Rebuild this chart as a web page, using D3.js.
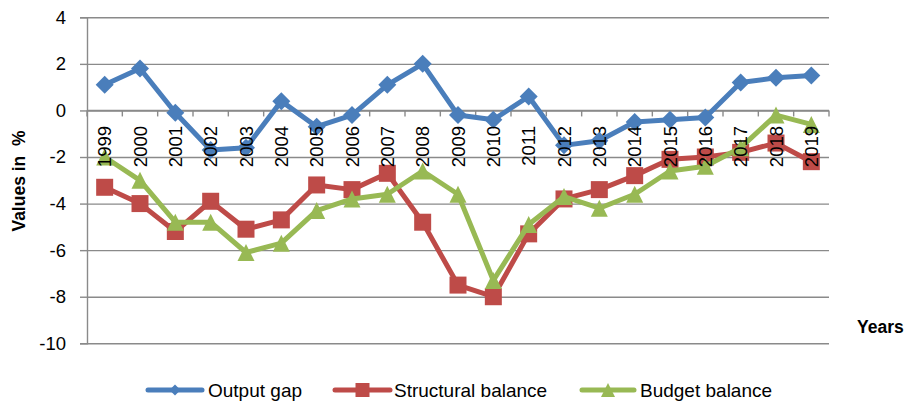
<!DOCTYPE html>
<html>
<head>
<meta charset="utf-8">
<script src="https://cdn.jsdelivr.net/npm/d3@7"></script>
<style>
  html, body { margin: 0; padding: 0; background: #fff; }
  svg { display: block; }
  text { font-family: "Liberation Sans", Arial, sans-serif; fill: #000; }
</style>
</head>
<body>
<svg id="chart" width="910" height="402"></svg>
<script>
const years = ["1999","2000","2001","2002","2003","2004","2005","2006","2007","2008","2009","2010","2011","2012","2013","2014","2015","2016","2017","2018","2019"];
const outputGap = [1.1, 1.8, -0.1, -1.7, -1.6, 0.4, -0.7, -0.2, 1.1, 2.0, -0.2, -0.4, 0.6, -1.5, -1.3, -0.5, -0.4, -0.3, 1.2, 1.4, 1.5];
const structuralBalance = [-3.3, -4.0, -5.2, -3.9, -5.1, -4.7, -3.2, -3.4, -2.7, -4.8, -7.5, -8.0, -5.3, -3.8, -3.4, -2.8, -2.1, -2.0, -1.8, -1.4, -2.2];
const budgetBalance = [-2.0, -3.0, -4.8, -4.8, -6.1, -5.7, -4.3, -3.8, -3.6, -2.6, -3.6, -7.3, -4.9, -3.7, -4.2, -3.6, -2.6, -2.4, -1.6, -0.2, -0.6];
const yTicks = [4, 2, 0, -2, -4, -6, -8, -10];
const seriesNames = ["Output gap", "Structural balance", "Budget balance"];

const svg = d3.select("#chart");
const plotLeft = 87, plotRight = 829, plotTop = 17.3, plotBottom = 343.3;

const x = d3.scaleBand().domain(years).range([plotLeft, plotRight]).padding(0);
const y = d3.scaleLinear().domain([-10, 4]).range([plotBottom, plotTop]);

// Gridlines
svg.append("g")
  .attr("transform", `translate(${plotLeft},0)`)
  .call(d3.axisLeft(y).tickValues(yTicks).tickSize(-(plotRight - plotLeft)).tickFormat(""))
  .call(g => g.select(".domain").remove())
  .call(g => g.selectAll("line").attr("stroke", "#8a8a8a").attr("stroke-width", 1.4));

// Y axis
const yAxis = svg.append("g")
  .attr("transform", `translate(${plotLeft},0)`)
  .call(d3.axisLeft(y).tickValues(yTicks).tickSize(7).tickPadding(14).tickFormat(d => String(d)));
yAxis.select(".domain").attr("stroke", "#8a8a8a").attr("stroke-width", 1.4);
yAxis.selectAll(".tick line").attr("stroke", "#8a8a8a").attr("stroke-width", 1.4);
yAxis.selectAll(".tick text")
  .attr("font-size", 18.5)
  .attr("font-family", "'Liberation Sans', Arial, sans-serif")
  .attr("fill", "#000");

// X axis along zero line
const y0 = y(0);
const xAxis = svg.append("g").attr("transform", `translate(0,${y0})`);
xAxis.append("line").attr("x1", plotLeft).attr("x2", plotRight).attr("y1", 0).attr("y2", 0)
  .attr("stroke", "#8a8a8a").attr("stroke-width", 1.4);
const boundaries = years.map(d => x(d)).concat([plotRight]);
xAxis.selectAll("line.tk").data(boundaries).join("line").attr("class", "tk")
  .attr("x1", d => d).attr("x2", d => d).attr("y1", 0).attr("y2", 6)
  .attr("stroke", "#8a8a8a").attr("stroke-width", 1.4);

// Marker shapes (bbox-centred)
function markerPath(type, s) {
  const h = s / 2;
  if (type === "diamond") return `M0,${-h}L${h},0L0,${h}L${-h},0Z`;
  if (type === "square") return `M${-h},${-h}H${h}V${h}H${-h}Z`;
  return `M0,${-h}L${h},${h}L${-h},${h}Z`;
}

const series = [
  { name: seriesNames[0], values: outputGap, color: "#4A7EBB", marker: "diamond", size: 18, lsize: 11 },
  { name: seriesNames[1], values: structuralBalance, color: "#BE4B48", marker: "square", size: 17, lsize: 14 },
  { name: seriesNames[2], values: budgetBalance, color: "#98B954", marker: "triangle", size: 17, lsize: 14 }
];

const line = d3.line().x((d, i) => x(years[i]) + x.bandwidth() / 2).y(d => y(d));

series.forEach(s => {
  const g = svg.append("g");
  g.append("path").datum(s.values)
    .attr("d", line)
    .attr("fill", "none")
    .attr("stroke", s.color)
    .attr("stroke-width", 5)
    .attr("stroke-linejoin", "round");
  g.selectAll("path.m").data(s.values).join("path").attr("class", "m")
    .attr("transform", (d, i) => `translate(${x(years[i]) + x.bandwidth() / 2},${y(d)})`)
    .attr("d", markerPath(s.marker, s.size))
    .attr("fill", s.color);
});

// Year labels (drawn on top of the series)
svg.append("g").selectAll("text").data(years).join("text")
  .attr("transform", d => `translate(${x(d) + x.bandwidth() / 2},126) rotate(-90)`)
  .attr("text-anchor", "end")
  .attr("dy", "0.36em")
  .attr("font-size", 18.5)
  .text(d => d);

// Axis titles
svg.append("text")
  .attr("transform", "translate(19,181) rotate(-90)")
  .attr("text-anchor", "middle")
  .attr("dy", "0.36em")
  .attr("font-size", 17.5)
  .attr("font-weight", "bold")
  .style("white-space", "pre")
  .text("Values in  %");

svg.append("text")
  .attr("x", 857).attr("y", 333)
  .attr("font-size", 17.5)
  .attr("font-weight", "bold")
  .text("Years");

// Legend
const legendItems = [
  { s: series[0], x1: 148, x2: 202, tx: 208 },
  { s: series[1], x1: 335, x2: 390, tx: 394 },
  { s: series[2], x1: 582, x2: 634, tx: 640 }
];
const lg = svg.append("g");
legendItems.forEach(it => {
  const ly = 390;
  lg.append("line").attr("x1", it.x1).attr("x2", it.x2).attr("y1", ly).attr("y2", ly)
    .attr("stroke", it.s.color).attr("stroke-width", 5).attr("stroke-linecap", "round");
  lg.append("path").attr("transform", `translate(${(it.x1 + it.x2) / 2},${ly})`)
    .attr("d", markerPath(it.s.marker, it.s.lsize)).attr("fill", it.s.color);
  lg.append("text").attr("x", it.tx).attr("y", 397).attr("font-size", 19).text(it.s.name);
});
</script>
</body>
</html>
